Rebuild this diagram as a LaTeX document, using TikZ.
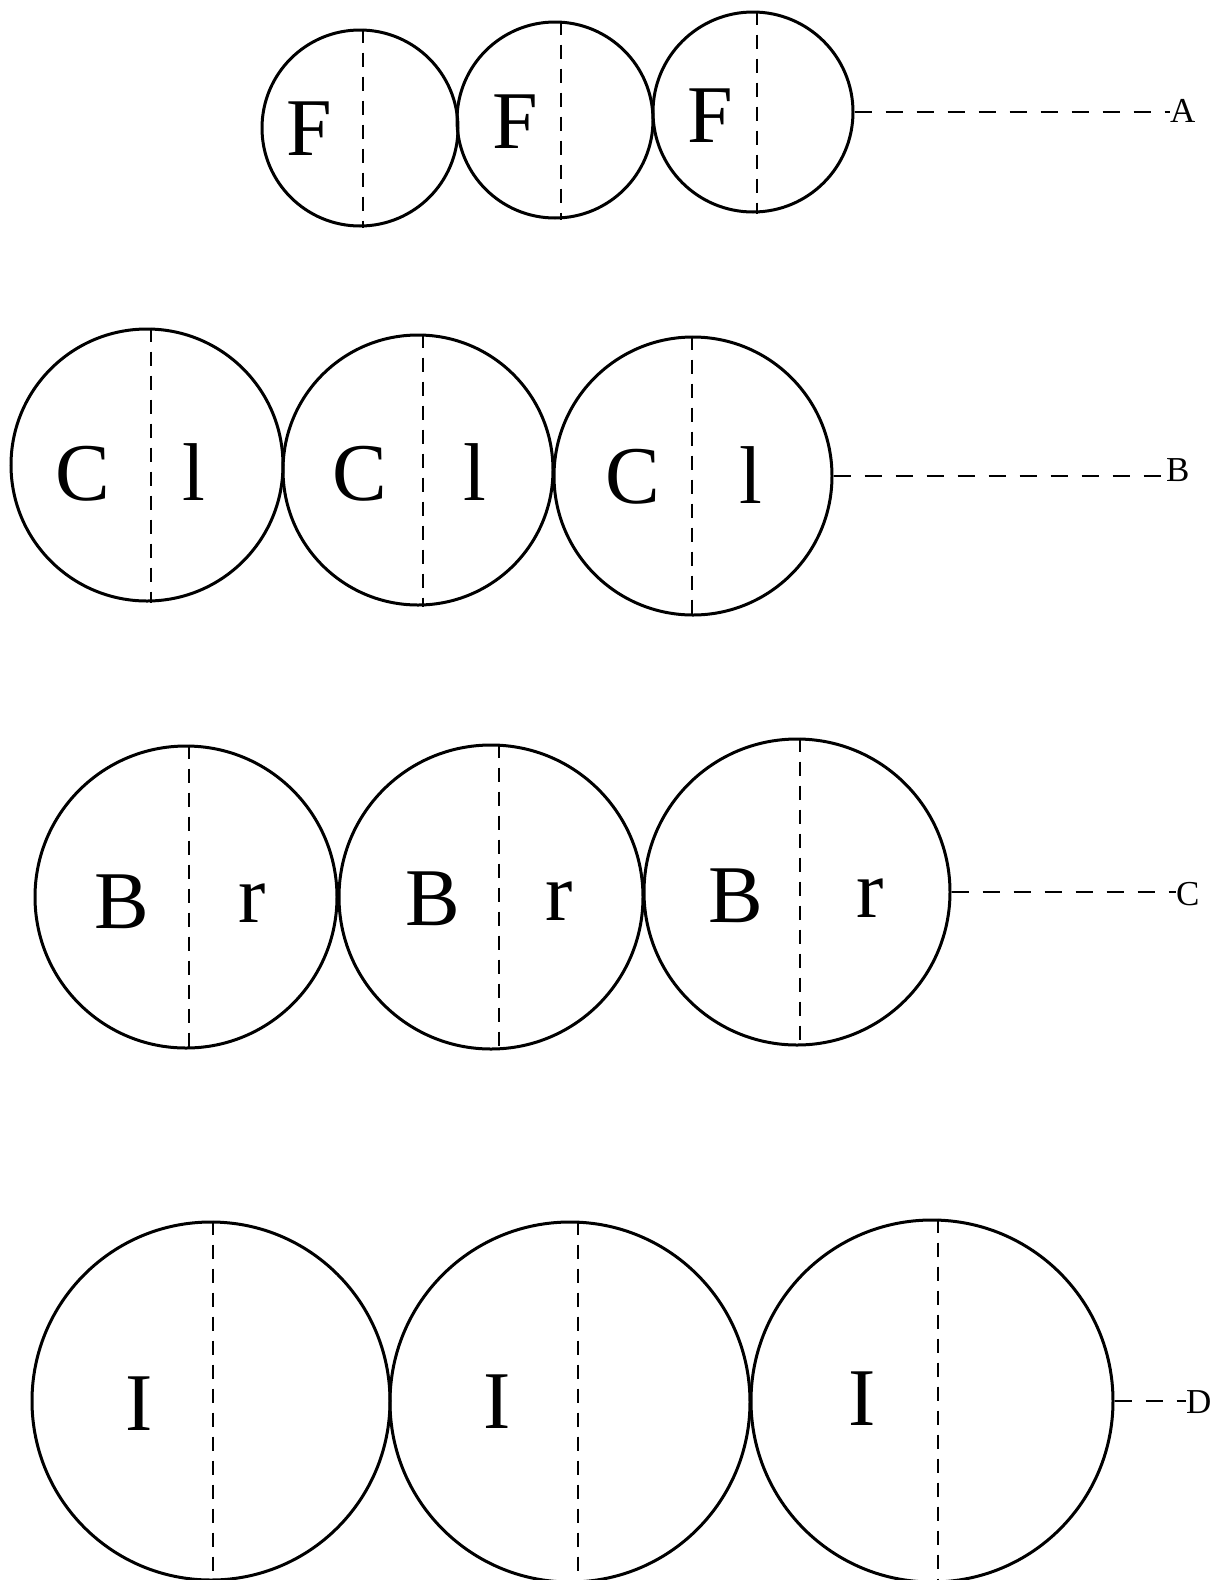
\documentclass[tikz,border=0pt]{standalone}
\usepackage{fontspec}
\setmainfont{Liberation Serif}
\usetikzlibrary{positioning}

\begin{document}
\begin{tikzpicture}[
    x=1pt, y=-1pt,
    cellbox/.style={
        draw,
        circle,
        line width=3pt,
        inner sep=0pt,
        minimum size=#1
    },
    divline/.style={line width=2pt, dash pattern=on 14pt off 10pt},
    leader/.style={line width=2.2pt, dash pattern=on 17pt off 14pt},
    letter/.style={font=\fontsize{82}{90}\selectfont, inner sep=0pt, anchor=base},
    rowlbl/.style={font=\fontsize{35}{40}\selectfont, inner sep=0pt, anchor=west}
]
\useasboundingbox (0,0) rectangle (1213,1580);

% === Row A ===
\node[cellbox=196pt] (a1) at (360,128) {};
\node[cellbox=196pt] (a2) at (555,120) {};
\node[cellbox=200pt] (a3) at (753,112) {};
\draw[divline] ([xshift=3pt]a1.north) -- ([xshift=3pt]a1.south);
\draw[divline] ([xshift=6pt]a2.north) -- ([xshift=6pt]a2.south);
\draw[divline] ([xshift=4pt]a3.north) -- ([xshift=4pt]a3.south);
\node[letter] (fa1) at (309,155) {F};
\node[letter] (fa2) at (515,148) {F};
\node[letter] (fa3) at (710,142) {F};
\node[rowlbl] (la) at (1170,111) {A};
\draw[leader] (a3.east) -- (a3.east -| la.west);

% === Row B ===
\node[cellbox=272pt] (b1) at (147,465) {};
\node[cellbox=270pt] (b2) at (418,470) {};
\node[cellbox=278pt] (b3) at (693,476) {};
\draw[divline] ([xshift=4pt]b1.north) -- ([xshift=4pt]b1.south);
\draw[divline] ([xshift=5pt]b2.north) -- ([xshift=5pt]b2.south);
\draw[divline] ([xshift=-1pt]b3.north) -- ([xshift=-1pt]b3.south);
\node[letter] (cb1) at (83,500) {C};
\node[letter] (lb1) at (194,500) {l};
\node[letter] (cb2) at (360,500) {C};
\node[letter] (lb2) at (475,500) {l};
\node[letter] (cb3) at (633,503) {C};
\node[letter] (lb3) at (751,503) {l};
\node[rowlbl] (lb) at (1166,470) {B};
\draw[leader] (b3.east) -- (b3.east -| lb.west);

% === Row C ===
\node[cellbox=302pt] (c1) at (186,897) {};
\node[cellbox=304pt] (c2) at (491,897) {};
\node[cellbox=306pt] (c3) at (797,892) {};
\draw[divline] ([xshift=3pt]c1.north) -- ([xshift=3pt]c1.south);
\draw[divline] ([xshift=8pt]c2.north) -- ([xshift=8pt]c2.south);
\draw[divline] ([xshift=3pt]c3.north) -- ([xshift=3pt]c3.south);
\node[letter] (bc1) at (122,928) {B};
\node[letter] (rc1) at (252,922) {r};
\node[letter] (bc2) at (433,925) {B};
\node[letter] (rc2) at (559,920) {r};
\node[letter] (bc3) at (736,922) {B};
\node[letter] (rc3) at (870,917) {r};
\node[rowlbl] (lc) at (1176,894) {C};
\draw[leader] (c3.east) -- (c3.east -| lc.west);

% === Row D ===
\node[cellbox=358pt] (d1) at (211,1401) {};
\node[cellbox=360pt] (d2) at (570,1402) {};
\node[cellbox=362pt] (d3) at (932,1401) {};
\draw[divline] ([xshift=2pt]d1.north) -- ([xshift=2pt]d1.south);
\draw[divline] ([xshift=8pt]d2.north) -- ([xshift=8pt]d2.south);
\draw[divline] ([xshift=6pt]d3.north) -- ([xshift=6pt]d3.south);
\node[letter] (id1) at (139,1430) {I};
\node[letter] (id2) at (497,1428) {I};
\node[letter] (id3) at (862,1425) {I};
\node[rowlbl] (ld) at (1186,1402) {D};
\draw[leader] (d3.east) -- (d3.east -| ld.west);

\end{tikzpicture}
\end{document}
